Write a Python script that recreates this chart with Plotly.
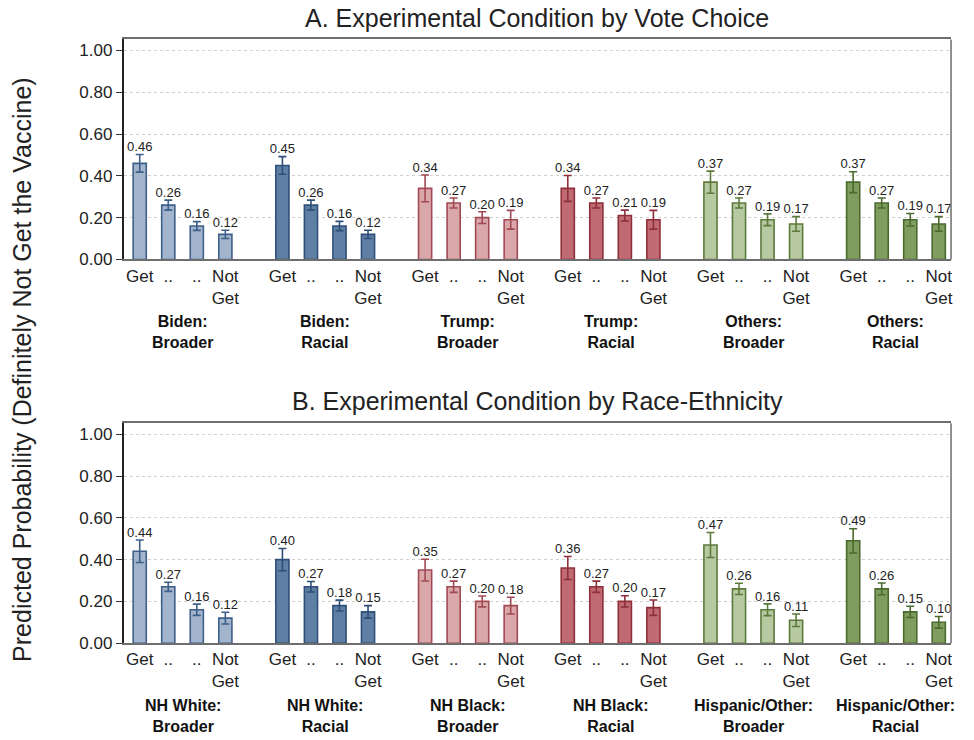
import plotly.graph_objects as go

# Category ticks shared by every group (response scale, Get -> Not Get)
tick_labels = ["Get", "..", "..", "Not<br>Get"]

# Panel A: experimental condition by vote choice
groups_a = ["Biden:<br>Broader", "Biden:<br>Racial", "Trump:<br>Broader",
            "Trump:<br>Racial", "Others:<br>Broader", "Others:<br>Racial"]
values_a = [
    [0.46, 0.26, 0.16, 0.12],
    [0.45, 0.26, 0.16, 0.12],
    [0.34, 0.27, 0.20, 0.19],
    [0.34, 0.27, 0.21, 0.19],
    [0.37, 0.27, 0.19, 0.17],
    [0.37, 0.27, 0.19, 0.17],
]
errors_a = [
    [0.042, 0.024, 0.021, 0.020],
    [0.042, 0.024, 0.022, 0.020],
    [0.064, 0.024, 0.028, 0.045],
    [0.062, 0.024, 0.026, 0.045],
    [0.053, 0.024, 0.028, 0.035],
    [0.050, 0.024, 0.030, 0.035],
]

# Panel B: experimental condition by race-ethnicity
groups_b = ["NH White:<br>Broader", "NH White:<br>Racial", "NH Black:<br>Broader",
            "NH Black:<br>Racial", "Hispanic/Other:<br>Broader", "Hispanic/Other:<br>Racial"]
values_b = [
    [0.44, 0.27, 0.16, 0.12],
    [0.40, 0.27, 0.18, 0.15],
    [0.35, 0.27, 0.20, 0.18],
    [0.36, 0.27, 0.20, 0.17],
    [0.47, 0.26, 0.16, 0.11],
    [0.49, 0.26, 0.15, 0.10],
]
errors_b = [
    [0.054, 0.022, 0.027, 0.028],
    [0.053, 0.025, 0.026, 0.030],
    [0.052, 0.027, 0.026, 0.040],
    [0.055, 0.027, 0.027, 0.037],
    [0.060, 0.027, 0.028, 0.030],
    [0.058, 0.028, 0.027, 0.028],
]

# Fill / outline colours per group (light = Broader, dark = Racial)
fills = ["#a2b5cd", "#5f7fa4", "#daa7ab", "#c06b73", "#b6c9a0", "#7f9d5f"]
edges = ["#3d5f88", "#2f4f78", "#a24a54", "#8e2f3a", "#5c7a3c", "#4a6a2e"]

FONT = "Liberation Sans, Arial, sans-serif"
fig = go.Figure()

panels = [
    ("x", "y", groups_a, values_a, errors_a),
    ("x2", "y2", groups_b, values_b, errors_b),
]

for xref, yref, groups, values, errors in panels:
    for g, (vals, errs) in enumerate(zip(values, errors)):
        xs = [g * 5 + i for i in range(len(vals))]
        fig.add_trace(go.Bar(
            x=xs, y=vals, xaxis=xref, yaxis=yref, width=0.46,
            marker=dict(color=fills[g], line=dict(color=edges[g], width=1.6)),
            error_y=dict(type="data", array=errs, visible=True,
                         color=edges[g], thickness=1.6, width=4),
            showlegend=False, hoverinfo="skip",
        ))
        fig.add_trace(go.Scatter(
            x=xs, y=[v + e for v, e in zip(vals, errs)], xaxis=xref, yaxis=yref,
            mode="text", text=[f"{v:.2f}" for v in vals],
            textposition="top center",
            textfont=dict(family=FONT, size=13, color="#222"),
            showlegend=False, hoverinfo="skip",
        ))

n_groups = len(groups_a)
tickvals = [g * 5 + i for g in range(n_groups) for i in range(4)]
ticktext = tick_labels * n_groups

x_domain = [124 / 974, 953 / 974]
xaxis_common = dict(
    domain=x_domain, range=[-0.56, 28.43], tickvals=tickvals, ticktext=ticktext,
    showline=True, linecolor="#6e6e6e", linewidth=1.5, mirror=True,
    ticks="", showgrid=False, zeroline=False,
    tickfont=dict(family=FONT, size=17, color="#222"),
)
yaxis_common = dict(
    range=[0, 1.053], tickvals=[0, 0.2, 0.4, 0.6, 0.8, 1.0],
    ticktext=["0.00", "0.20", "0.40", "0.60", "0.80", "1.00"],
    showline=True, linecolor="#222", linewidth=2, ticks="outside", ticklen=6,
    tickcolor="#333", tickwidth=1.2,
    showgrid=True, gridcolor="#cfcfcf", griddash="dot", gridwidth=1,
    zeroline=False, tickfont=dict(family=FONT, size=17, color="#222"),
)

fig.update_layout(
    width=974, height=740, margin=dict(l=0, r=0, t=0, b=0),
    paper_bgcolor="white", plot_bgcolor="white", barmode="overlay",
    xaxis=dict(**xaxis_common, anchor="y"),
    xaxis2=dict(**xaxis_common, anchor="y2"),
    yaxis=dict(**yaxis_common, domain=[1 - 263 / 740, 1 - 40 / 740], anchor="x"),
    yaxis2=dict(**yaxis_common, domain=[1 - 652 / 740, 1 - 429 / 740], anchor="x2"),
)

# Right border of each panel
for yref in ("y domain", "y2 domain"):
    fig.add_shape(type="line", xref="paper", yref=yref,
                  x0=x_domain[1], x1=x_domain[1], y0=0, y1=1,
                  line=dict(color="#6e6e6e", width=1.5))

# Group labels under each block of bars
for yref, xref, groups in (("y domain", "x", groups_a), ("y2 domain", "x2", groups_b)):
    for g, label in enumerate(groups):
        fig.add_annotation(
            x=g * 5 + 1.5, y=-0.33, xref=xref, yref=yref,
            text=f"<b>{label}</b>", showarrow=False, yanchor="middle",
            font=dict(family=FONT, size=16, color="#111"),
        )

# Panel titles
fig.add_annotation(x=538.5 / 974, y=1 - 18 / 740, xref="paper", yref="paper",
                   text="A. Experimental Condition by Vote Choice", showarrow=False,
                   yanchor="middle", xanchor="center",
                   font=dict(family=FONT, size=25, color="#222"))
fig.add_annotation(x=538.5 / 974, y=1 - 406 / 740, xref="paper", yref="paper",
                   text="B. Experimental Condition by Race-Ethnicity", showarrow=False,
                   yanchor="middle", xanchor="center",
                   font=dict(family=FONT, size=25, color="#222"))

# Shared y-axis title
fig.add_annotation(x=22 / 974, y=1 - 374 / 740, xref="paper", yref="paper",
                   text="Predicted Probability (Definitely Not Get the Vaccine)",
                   textangle=-90, showarrow=False, xanchor="center", yanchor="middle",
                   font=dict(family=FONT, size=25, color="#222"))

fig.write_html("out.html")
